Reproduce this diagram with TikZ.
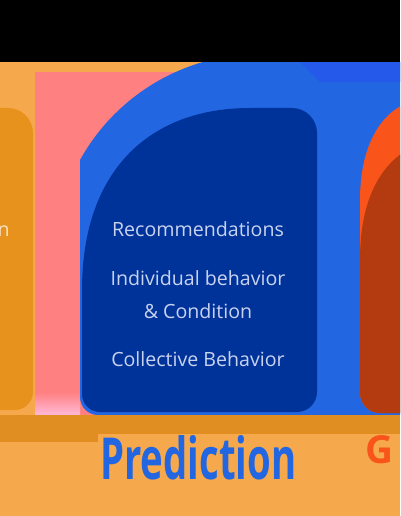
\documentclass[tikz,border=0pt]{standalone}
\usepackage{fontspec}
\setmainfont{Open Sans}
\usepackage{graphicx}
\usepackage{xcolor}
\usepackage{tikz}
\usetikzlibrary{positioning}
\definecolor{predblack}{HTML}{000000}
\definecolor{predsand}{HTML}{F5A94C}
\definecolor{predpink}{HTML}{FF8080}
\definecolor{predblush}{HTML}{FFB9D9}
\definecolor{predamber}{HTML}{E8921E}
\definecolor{predband}{HTML}{E08E22}
\definecolor{predblue}{HTML}{2266E2}
\definecolor{predbluealt}{HTML}{2459E9}
\definecolor{prednavy}{HTML}{003399}
\definecolor{predflame}{HTML}{F9541A}
\definecolor{predrust}{HTML}{B43A10}
\definecolor{predtextcool}{HTML}{C9D3F0}
\definecolor{predtextwarm}{HTML}{F8E0C0}
\tikzset{%
  predlabel/.style={%
    inner sep=0pt,
    text=predtextcool,
    font=\fontsize{14.7}{17}\selectfont
  },
  predtitle/.style={%
    inner sep=0pt,
    anchor=base west,
    font=\bfseries
  }
}

\begin{document}
\begin{tikzpicture}[x=0.75pt,y=-0.75pt]
    \useasboundingbox (0,0) rectangle (400,516);
    \clip (0,0) rectangle (400,516);

    % backdrop
    \fill[predsand] (0,0) rectangle (400,516);
    \fill[predpink] (35,72) rectangle (400,415);
    \shade[top color=predpink,bottom color=predblush] (35,392) rectangle (80,415);

    % left column (cut off)
    \fill[predamber] (-10,108) -- (8,108) arc[start angle=-90,end angle=0,radius=25]
      -- (33,392) arc[start angle=0,end angle=90,radius=18] -- (-10,410) -- cycle;

    % prediction column
    \fill[predblue] (80,160) arc[start angle=209,end angle=254,radius=206]
      -- (410,62) -- (410,415) -- (98,415) arc[start angle=90,end angle=180,radius=18] -- cycle;
    \fill[predbluealt] (300,62) -- (320,82) -- (410,82) -- (410,62) -- cycle;
    \fill[prednavy] (82,290) .. controls (82,170) and (150,108) .. (250,108)
      -- (292,108) arc[start angle=-90,end angle=0,radius=25]
      -- (317,392) arc[start angle=0,end angle=90,radius=20]
      -- (100,412) arc[start angle=90,end angle=180,radius=18] -- cycle;

    % right column (cut off)
    \fill[predflame] (380,413) arc[start angle=90,end angle=180,radius=20]
      -- (360,200) .. controls (360,140) and (385,110) .. (410,102) -- (410,413) -- cycle;
    \fill[predrust] (380,413) arc[start angle=90,end angle=180,radius=20]
      -- (360,260) .. controls (360,200) and (380,165) .. (410,148) -- (410,413) -- cycle;

    % bands
    \fill[predblack] (0,0) rectangle (400,62);
    \fill[predband] (0,415) rectangle (400,442);
    \fill[predsand] (98,434) rectangle (400,442);

    \node[predlabel,anchor=base] (recom) at (198,237) {Recommendations};
    \node[predlabel,anchor=base] (indiv) at (198,285) {Individual behavior};
    \node[predlabel,anchor=base] (cond) at (198,318) {\& Condition};
    \node[predlabel,anchor=base] (collect) at (198,366) {Collective Behavior};
    \node[predlabel,text=predtextwarm,anchor=base east] (sidecut) at (10,237) {n};

    \node[predtitle,text=predblue] (stage) at (100,479) {\resizebox{147pt}{33pt}{\bfseries Prediction}};
    \node[predtitle,text=predflame,font=\bfseries\fontsize{29}{30}\selectfont] (nextstage) at (365,463) {G};
  \end{tikzpicture}
\end{document}
